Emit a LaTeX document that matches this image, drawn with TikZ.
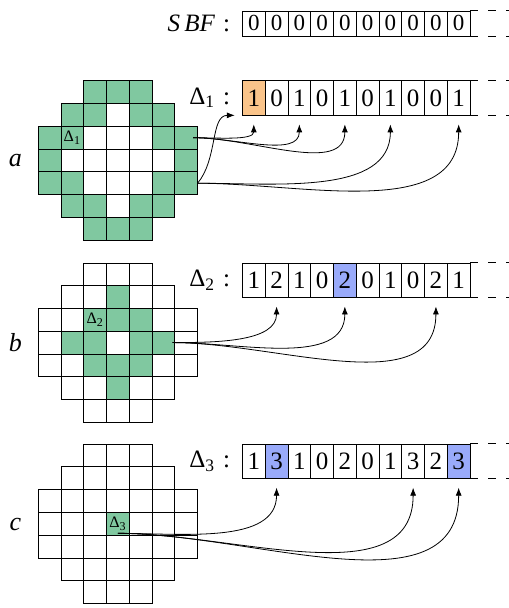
\documentclass[tikz,border=0pt]{standalone}
\usepackage{fontspec}
\setmainfont{Liberation Serif}
\usetikzlibrary{arrows.meta}

\definecolor{cellgreen}{RGB}{128,200,160}
\definecolor{bitorange}{RGB}{250,196,138}
\definecolor{bitblue}{RGB}{153,170,250}

\tikzset{
	bit/.style={draw, minimum width=0.4cm, minimum height=0.6cm, inner sep=0pt, font=\fontsize{12.5}{14}\selectfont},
	sbfbit/.style={bit, minimum height=0.44cm, font=\fontsize{11.5}{13}\selectfont},
	tail/.style={dash pattern=on 4pt off 5pt},
	hop/.style={-{Latex[length=4pt,width=3pt]}, shorten >=4.5pt},
	arrlabel/.style={left, inner sep=2pt, font=\fontsize{12.5}{14}\selectfont},
	rowname/.style={font=\itshape\fontsize{13}{15}\selectfont},
	tag/.style={inner sep=0pt, font=\fontsize{8}{9}\selectfont}
}

% rows of the octagonal mask: row/first column/last column
\newcommand{\cellmask}{0/2/4,1/1/5,2/0/6,3/0/6,4/0/6,5/1/5,6/2/4}

\begin{document}
\begin{tikzpicture}[x=0.4cm, y=0.4cm]
	\useasboundingbox (0,0) rectangle (22.32,26.71);

	% grid a
	\begin{scope}[shift={(1.68,23.16)}]
		\foreach \r/\c in {0/2,0/3,0/4,1/1,1/2,1/4,1/5,2/0,2/1,2/5,2/6,3/0,3/6,4/0,4/1,4/5,4/6,5/1,5/2,5/4,5/5,6/2,6/3,6/4}
			\fill[cellgreen] (\c,-\r) rectangle ++(1,-1);
		\foreach \r/\lo/\hi in \cellmask
			\foreach \c in {\lo,...,\hi}
				\draw (\c,-\r) rectangle ++(1,-1);
		\node[tag] (tagA) at (1.5,-2.5) {Δ\textsubscript{1}};
		\coordinate (srcA1) at (6.8,-2.5);
		\coordinate (srcA2) at (7,-4.5);
	\end{scope}

	% grid b
	\begin{scope}[shift={(1.68,15.16)}]
		\foreach \r/\c in {1/3,2/2,2/3,2/4,3/1,3/2,3/4,3/5,4/2,4/3,4/4,5/3}
			\fill[cellgreen] (\c,-\r) rectangle ++(1,-1);
		\foreach \r/\lo/\hi in \cellmask
			\foreach \c in {\lo,...,\hi}
				\draw (\c,-\r) rectangle ++(1,-1);
		\node[tag] (tagB) at (2.5,-2.5) {Δ\textsubscript{2}};
		\coordinate (srcB) at (5.9,-3.5);
	\end{scope}

	% grid c
	\begin{scope}[shift={(1.68,7.2)}]
		\fill[cellgreen] (3,-3) rectangle ++(1,-1);
		\foreach \r/\lo/\hi in \cellmask
			\foreach \c in {\lo,...,\hi}
				\draw (\c,-\r) rectangle ++(1,-1);
		\node[tag] (tagC) at (3.5,-3.5) {Δ\textsubscript{3}};
		\coordinate (srcC) at (3.5,-3.92);
	\end{scope}

	\node[rowname] (rowA) at (0.68,19.66) {a};
	\node[rowname] (rowB) at (0.68,11.66) {b};
	\node[rowname] (rowC) at (0.68,3.68) {c};

	% bit arrays
	\foreach \v [count=\i from 0] in {0,0,0,0,0,0,0,0,0,0}
		\node[sbfbit] (s-\i) at (11.15+\i,25.68) {\v};
	\foreach \v/\f [count=\i from 0] in {1/bitorange,0/white,1/white,0/white,1/white,0/white,1/white,0/white,0/white,1/white}
		\node[bit, fill=\f] (d1-\i) at (11.15+\i,22.41) {\v};
	\foreach \v/\f [count=\i from 0] in {1/white,2/white,1/white,0/white,2/bitblue,0/white,1/white,0/white,2/white,1/white}
		\node[bit, fill=\f] (d2-\i) at (11.15+\i,14.41) {\v};
	\foreach \v/\f [count=\i from 0] in {1/white,3/bitblue,1/white,0/white,2/white,0/white,1/white,3/white,2/white,3/bitblue}
		\node[bit, fill=\f] (d3-\i) at (11.15+\i,6.45) {\v};

	\foreach \n in {s,d1,d2,d3} {
		\draw[tail] (\n-9.north east) -- ++(1.7,0);
		\draw[tail] (\n-9.south east) -- ++(1.7,0);
	}

	\node[arrlabel] (lblS) at (10.3,25.68) {\textit{S\,BF}\hspace{4pt}:};
	\node[arrlabel] (lbl1) at (10.3,22.41) {Δ\textsubscript{1}\hspace{4pt}:};
	\node[arrlabel] (lbl2) at (10.3,14.41) {Δ\textsubscript{2}\hspace{4pt}:};
	\node[arrlabel] (lbl3) at (10.3,6.45) {Δ\textsubscript{3}\hspace{4pt}:};

	% hashes
	\foreach \k in {0,2,4}
		\draw[hop] (srcA1) to[out=0,in=-90] (d1-\k.south);
	\draw[hop, shorten >=3.6pt] (srcA2) to[out=50,in=180] (d1-0.south west);
	\foreach \k in {6,9}
		\draw[hop] (srcA2) to[out=0,in=-90] (d1-\k.south);
	\foreach \k in {1,4,8}
		\draw[hop] (srcB) to[out=0,in=-90] (d2-\k.south);
	\foreach \k in {1,7,9}
		\draw[hop] (srcC) to[out=0,in=-90] (d3-\k.south);
\end{tikzpicture}
\end{document}
